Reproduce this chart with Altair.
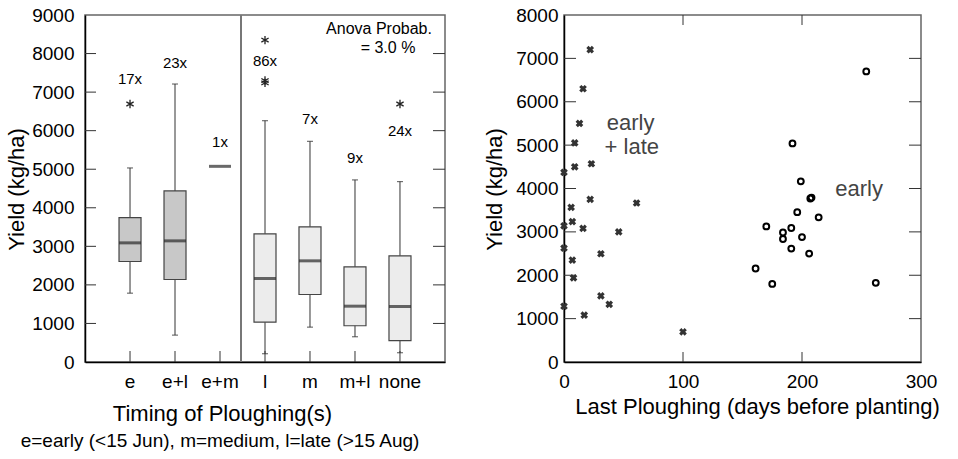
import altair as alt
import pandas as pd

# ---------------- Left panel data (box plots) ----------------
cats = ["e", "e+l", "e+m", "l", "m", "m+l", "none"]
counts = ["17x", "23x", "1x", "86x", "7x", "9x", "24x"]
medians = [3090, 3142, 5075, 2166, 2624, 1448, 1440]
label_y = [7350, 7760, 5700, 7810, 6290, 5280, 6000]

box_cats = ["e", "e+l", "l", "m", "m+l", "none"]
whisk_lo = [1785, 697, 215, 904, 655, 241]
q1 = [2606, 2140, 1034, 1751, 940, 552]
q3 = [3746, 4438, 3324, 3505, 2469, 2754]
whisk_hi = [5033, 7210, 6259, 5723, 4723, 4679]
box_fill = ["#c8c8c8", "#c8c8c8", "#ececec", "#ececec", "#ececec", "#ececec"]

out_cat = ["e", "l", "l", "l", "none"]
out_val = [6692, 8350, 7300, 7240, 6692]

left_ticks = [1000, 2000, 3000, 4000, 5000, 6000, 7000, 8000]

# ---------------- Right panel data (scatter) ----------------
late_x = [22, 16, 13, 9, 9, 23, 0, 22, 61, 6, 7, 0, 16, 46, 0, 31, 7, 8, 31, 38, 0, 17, 100]
late_y = [7200, 6300, 5500, 5050, 4500, 4570, 4370, 3750, 3665, 3565, 3235, 3140,
          3080, 3000, 2625, 2495, 2350, 1940, 1525, 1330, 1285, 1080, 695]
early_x = [254, 192, 199, 207, 208, 196, 214, 170, 191, 184, 184, 200, 191, 206, 161, 175, 262]
early_y = [6700, 5040, 4165, 3770, 3790, 3455, 3335, 3125, 3090, 2985, 2835, 2880,
           2615, 2500, 2155, 1800, 1825]
right_yticks = [1000, 2000, 3000, 4000, 5000, 6000, 7000]
right_xticks = [100, 200]

FONT = "Liberation Sans"
W_L, W_R, H = 360, 357, 347

boxes = pd.DataFrame({"cat": box_cats, "lo": whisk_lo, "q1": q1, "q3": q3,
                      "hi": whisk_hi, "fill": box_fill})
meds = pd.DataFrame({"cat": cats, "med": medians, "count": counts, "ly": label_y})
outs = pd.DataFrame({"cat": out_cat, "val": out_val})
lt = pd.DataFrame({"v": left_ticks})
catdf = pd.DataFrame({"cat": cats})

xscale = alt.Scale(domain=cats, paddingInner=0.511, paddingOuter=0.756)
yscale_l = alt.Scale(domain=[0, 9000], nice=False)

x_axis_l = alt.Axis(title="Timing of Ploughing(s)", labelAngle=0, ticks=False, tickSize=0,
                    labelPadding=10, labelFontSize=19, labelColor="black",
                    domainColor="black", domainWidth=1.5,
                    titleFontSize=22, titleFontWeight="normal", titleColor="black",
                    titleX=137, titleY=51, titleBaseline="middle", titleAlign="center")
y_axis_l = alt.Axis(title="Yield (kg/ha)", values=list(range(0, 9001, 1000)), format="d",
                    ticks=False, tickSize=0, grid=False, labelPadding=11, labelFontSize=19,
                    labelOverlap=False, labelFlush=False,
                    labelColor="black", domainColor="black", domainWidth=1.5,
                    titleFontSize=22, titleFontWeight="normal", titleColor="black",
                    titleX=-69, titleY=174, titleAngle=270, titleBaseline="middle",
                    titleAlign="center")

X = alt.X("cat:N", scale=xscale, axis=x_axis_l)


def YL(f):
    return alt.Y(f, scale=yscale_l, axis=y_axis_l)


whisk = alt.Chart(boxes).mark_rule(color="#333", strokeWidth=1).encode(
    x=X, y=YL("lo:Q"), y2="hi:Q")
cap_lo = alt.Chart(boxes).mark_tick(size=6, thickness=1.2, color="#333").encode(
    x=X, y=YL("lo:Q"))
cap_hi = alt.Chart(boxes).mark_tick(size=6, thickness=1.2, color="#333").encode(
    x=X, y=YL("hi:Q"))
box = alt.Chart(boxes).mark_bar(size=22, stroke="#444", strokeWidth=1.2).encode(
    x=X, y=YL("q1:Q"), y2="q3:Q",
    color=alt.Color("fill:N", scale=None))
med = alt.Chart(meds).mark_tick(size=22, thickness=3, color="#2a2a2a").encode(
    x=X, y=YL("med:Q"))
cnt = alt.Chart(meds).mark_text(fontSize=15, font=FONT, color="black", baseline="middle").encode(
    x=X, y=YL("ly:Q"), text="count:N")
asterisk = "M0,-1L0,1M-0.87,-0.5L0.87,0.5M-0.87,0.5L0.87,-0.5"
outl = alt.Chart(outs).mark_point(shape=asterisk, size=70, filled=False, strokeWidth=1.3,
                                  color="#222", opacity=1).encode(
    x=X, y=YL("val:Q"))
sep = alt.Chart(catdf).mark_rule(color="#777", strokeWidth=1.5).encode(
    x=alt.value(156), y=alt.value(0), y2=alt.value(H))
tk_left = alt.Chart(lt).mark_rule(color="#333", strokeWidth=1).encode(
    y=YL("v:Q"), x=alt.value(0), x2=alt.value(11))
tk_right = alt.Chart(lt).mark_rule(color="#333", strokeWidth=1).encode(
    y=YL("v:Q"), x=alt.value(W_L - 12), x2=alt.value(W_L))
tk_bot = alt.Chart(catdf).mark_rule(color="#333", strokeWidth=1).encode(
    x=X, y=alt.value(H), y2=alt.value(H - 11))
anova = alt.Chart(pd.DataFrame({"t": ["Anova Probab.", "= 3.0 %"], "yv": [8640, 8150],
                                "xp": [294, 303]})).mark_text(
    fontSize=16, font=FONT, color="black", baseline="middle").encode(
    x=alt.X("xp:Q", scale=None), y=YL("yv:Q"), text="t:N")
subt = alt.Chart(pd.DataFrame({"t": ["e=early (<15 Jun), m=medium, l=late (>15 Aug)"]})).mark_text(
    fontSize=19, font=FONT, color="black", baseline="middle").encode(
    x=alt.value(135), y=alt.value(426), text="t:N")

left = alt.layer(whisk, sep, cap_lo, cap_hi, box, med, outl, cnt, tk_left, tk_right, tk_bot,
                 anova, subt).properties(width=W_L, height=H)

# ---------------- Right panel ----------------
late = pd.DataFrame({"x": late_x, "y": late_y})
early = pd.DataFrame({"x": early_x, "y": early_y})
xs_r = alt.Scale(domain=[0, 300], nice=False)
ys_r = alt.Scale(domain=[0, 8000], nice=False)
x_axis_r = alt.Axis(title="Last Ploughing (days before planting)", values=[0, 100, 200, 300],
                    format="d", ticks=False, tickSize=0, grid=False, labelPadding=10,
                    labelOverlap=False, labelFlush=False,
                    labelFontSize=19, labelColor="black", domainColor="black", domainWidth=1.5,
                    titleFontSize=22, titleFontWeight="normal", titleColor="black",
                    titleX=193, titleY=44, titleBaseline="middle", titleAlign="center")
y_axis_r = alt.Axis(title="Yield (kg/ha)", values=list(range(0, 8001, 1000)), format="d",
                    ticks=False, tickSize=0, grid=False, labelPadding=6, labelFontSize=19,
                    labelOverlap=False, labelFlush=False,
                    labelColor="black", domainColor="black", domainWidth=1.5,
                    titleFontSize=22, titleFontWeight="normal", titleColor="black",
                    titleX=-70, titleY=174, titleAngle=270, titleBaseline="middle",
                    titleAlign="center")


def XR(f):
    return alt.X(f, scale=xs_r, axis=x_axis_r)


def YR(f):
    return alt.Y(f, scale=ys_r, axis=y_axis_r)


crosses = alt.Chart(late).mark_point(shape="cross", angle=45, filled=True, size=60,
                                     color="#333", opacity=1).encode(
    x=XR("x:Q"), y=YR("y:Q"))
circles = alt.Chart(early).mark_point(shape="circle", filled=False, size=34, strokeWidth=2,
                                      color="black", opacity=1).encode(
    x=XR("x:Q"), y=YR("y:Q"))
ryt = pd.DataFrame({"v": right_yticks})
rxt = pd.DataFrame({"v": right_xticks})
rt_left = alt.Chart(ryt).mark_rule(color="#333", strokeWidth=1).encode(
    y=YR("v:Q"), x=alt.value(0), x2=alt.value(12))
rt_right = alt.Chart(ryt).mark_rule(color="#333", strokeWidth=1).encode(
    y=YR("v:Q"), x=alt.value(W_R - 12), x2=alt.value(W_R))
rt_bot = alt.Chart(rxt).mark_rule(color="#333", strokeWidth=1).encode(
    x=XR("v:Q"), y=alt.value(H), y2=alt.value(H - 10))
rt_top = alt.Chart(rxt).mark_rule(color="#333", strokeWidth=1).encode(
    x=XR("v:Q"), y=alt.value(0), y2=alt.value(10))
lab = alt.Chart(pd.DataFrame({"t": ["early", "+ late", "early"],
                              "x": [56, 57, 248], "y": [5520, 4965, 3995]})).mark_text(
    fontSize=22, font=FONT, color="#444", baseline="middle").encode(
    x=XR("x:Q"), y=YR("y:Q"), text="t:N")

right = alt.layer(crosses, circles, rt_left, rt_right, rt_bot, rt_top, lab).properties(
    width=W_R, height=H)

chart = alt.hconcat(left, right, spacing=119, bounds="flush").properties(
    padding={"left": 4, "top": 5, "right": 5, "bottom": 5}
).configure(font=FONT).configure_view(stroke="#666", strokeWidth=1.5).configure_axis(
    labelOverlap=False, labelFlush=False)

chart.save("out.html", embed_options={"renderer": "svg", "actions": False})
